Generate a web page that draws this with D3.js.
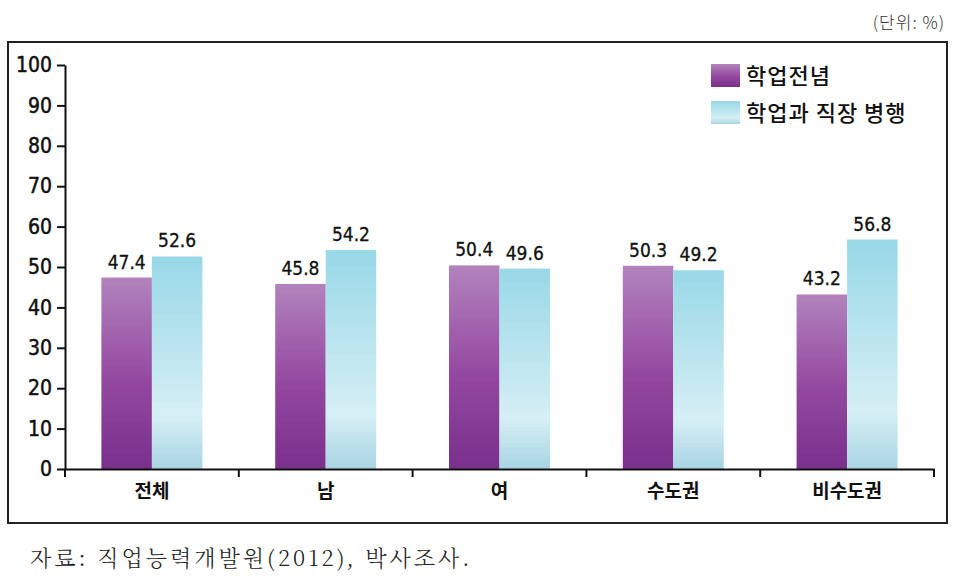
<!DOCTYPE html>
<html><head><meta charset="utf-8">
<script src="https://cdn.jsdelivr.net/npm/d3@7"></script>
<style>
body{margin:0;background:#fff;}
svg{display:block;}
</style></head>
<body>
<svg id="chart" width="963" height="579"></svg>
<script>
const categories = ["전체","남","여","수도권","비수도권"];
const seriesNames = ["학업전념","학업과 직장 병행"];
const study = [47.4, 45.8, 50.4, 50.3, 43.2];
const workStudy = [52.6, 54.2, 49.6, 49.2, 56.8];
const yTicks = [0,10,20,30,40,50,60,70,80,90,100];
const unitLabel = "(단위: %)";
const sourceLabel = "자료: 직업능력개발원(2012), 박사조사.";

(function(){
const svg = d3.select("#chart");
const numFont = "'DejaVu Sans Condensed','DejaVu Sans',sans-serif";
const krFont = "'Noto Sans CJK KR','Noto Sans',sans-serif";

const defs = svg.append("defs");
const g1 = defs.append("linearGradient").attr("id","gPurple").attr("x1",0).attr("y1",0).attr("x2",0).attr("y2",1);
g1.append("stop").attr("offset","0%").attr("stop-color","#b283bd");
g1.append("stop").attr("offset","55%").attr("stop-color","#93479f");
g1.append("stop").attr("offset","100%").attr("stop-color","#79308c");
const g2 = defs.append("linearGradient").attr("id","gCyan").attr("x1",0).attr("y1",0).attr("x2",0).attr("y2",1);
g2.append("stop").attr("offset","0%").attr("stop-color","#98d8e7");
g2.append("stop").attr("offset","75%").attr("stop-color","#d6eff5");
g2.append("stop").attr("offset","100%").attr("stop-color","#a8d4e2");

svg.append("rect").attr("x",8).attr("y",42).attr("width",939).attr("height",481)
  .attr("fill","none").attr("stroke","#222").attr("stroke-width",2);

svg.append("text").attr("x",945).attr("y",29).attr("text-anchor","end")
  .attr("font-family",krFont).attr("font-size",17).attr("font-weight",300)
  .attr("letter-spacing",1).attr("fill","#333").text(unitLabel);

svg.append("text").attr("x",30).attr("y",566)
  .attr("font-family","'Noto Serif CJK KR','Noto Sans CJK KR',serif").attr("font-size",22)
  .attr("font-weight",300).attr("letter-spacing",3).attr("fill","#222").text(sourceLabel);

const pl = 65, pr = 934, pt = 65, pb = 469;
const x = d3.scaleBand().domain(categories).range([pl,pr]).paddingInner(0).paddingOuter(0);
const y = d3.scaleLinear().domain([0,100]).range([pb,pt]);
const barW = 50.5;

const yAxis = svg.append("g").attr("transform",`translate(${pl},0)`)
  .call(d3.axisLeft(y).tickValues(yTicks).tickSize(8).tickSizeOuter(0).tickPadding(5));
yAxis.select(".domain").attr("stroke","#111").attr("stroke-width",2);
yAxis.selectAll(".tick line").attr("stroke","#111").attr("stroke-width",2);
yAxis.selectAll(".tick text").attr("font-family",numFont).attr("font-size",21)
  .attr("font-stretch","condensed").attr("fill","#111")
  .attr("stroke","#111").attr("stroke-width",0.5);

const data = categories.map((c,i)=>({c, v:[study[i], workStudy[i]]}));
const grp = svg.append("g").selectAll("g").data(data).join("g")
  .attr("transform",d=>`translate(${x(d.c)+x.bandwidth()/2},0)`);
grp.selectAll("rect").data(d=>d.v).join("rect")
  .attr("x",(d,i)=> i===0 ? -barW : 0)
  .attr("y",d=>y(d)).attr("width",barW).attr("height",d=>pb-y(d))
  .attr("fill",(d,i)=> i===0 ? "url(#gPurple)" : "url(#gCyan)");
grp.selectAll("text.val").data(d=>d.v).join("text").attr("class","val")
  .attr("x",(d,i)=> i===0 ? -barW/2 : barW/2)
  .attr("y",d=>y(d)-9).attr("text-anchor","middle")
  .attr("font-family",numFont).attr("font-stretch","condensed").attr("font-size",19).attr("fill","#111")
  .attr("stroke","#111").attr("stroke-width",0.3)
  .text(d=>d.toFixed(1));

const xAxis = svg.append("g").attr("transform",`translate(0,${pb})`)
  .call(d3.axisBottom(x).tickSize(0).tickPadding(16));
xAxis.select(".domain").attr("stroke","#111").attr("stroke-width",2);
xAxis.selectAll(".tick text").attr("font-family",krFont).attr("font-size",19)
  .attr("font-weight","bold").attr("fill","#111");
const bounds = categories.map(c=>x(c)).concat([pr]);
xAxis.selectAll("line.bt").data(bounds).join("line").attr("class","bt")
  .attr("x1",d=>d).attr("x2",d=>d).attr("y1",0).attr("y2",8)
  .attr("stroke","#111").attr("stroke-width",2);

const leg = svg.append("g");
seriesNames.forEach((s,i)=>{
  const yy = 64 + i*37;
  leg.append("rect").attr("x",711).attr("y",yy).attr("width",29).attr("height",23)
    .attr("fill", i===0 ? "url(#gPurple)" : "url(#gCyan)");
  leg.append("text").attr("x",746).attr("y",yy+20).attr("font-family",krFont)
    .attr("font-size",22).attr("font-weight",500).attr("letter-spacing",1).attr("fill","#111").text(s);
});
})();
</script>
</body></html>
